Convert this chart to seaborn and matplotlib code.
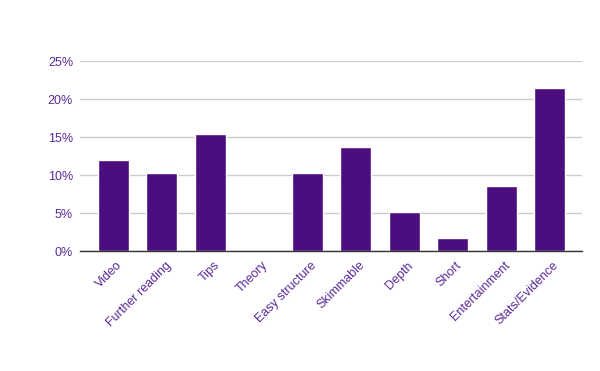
import matplotlib
matplotlib.use("Agg")
import matplotlib.pyplot as plt
import matplotlib.transforms as mtransforms
import seaborn as sns
import pandas as pd
from matplotlib.ticker import FuncFormatter

categories = ["Video", "Further reading", "Tips", "Theory", "Easy structure",
              "Skimmable", "Depth", "Short", "Entertainment", "Stats/Evidence"]
values = [12.0, 10.3, 15.4, 0.0, 10.3, 13.7, 5.1, 1.7, 8.5, 21.4]
yticks = [0, 5, 10, 15, 20, 25]

sns.set_theme(style="white")
plt.rcParams['font.family'] = ['Liberation Sans', 'DejaVu Sans']

bar_color = "#4c0d7f"
text_color = "#5a2a98"

df = pd.DataFrame({"cat": categories, "val": values})
fig = plt.figure(figsize=(6, 3.71), dpi=100)
ax = fig.add_axes([80/600, 1-251/371, (582-80)/600, (251-61)/371])
sns.barplot(data=df, x="cat", y="val", color=bar_color, width=0.64,
            saturation=1, ax=ax, zorder=3)
ax.set_xlim(-0.692, 9.671)
ax.set_ylim(0, 25)
ax.set_yticks(yticks)
ax.yaxis.set_major_formatter(FuncFormatter(lambda v, p: f"{int(v)}%"))
ax.grid(axis="y", color="#cccccc", linewidth=1, zorder=0)
ax.set_xlabel("")
ax.set_ylabel("")
for s in ["top", "right", "left"]:
    ax.spines[s].set_visible(False)
ax.spines["bottom"].set_color("#333333")
ax.spines["bottom"].set_linewidth(1)
ax.spines["bottom"].set_zorder(4)
ax.tick_params(axis="both", length=0, colors=text_color, labelsize=9)
ax.tick_params(axis="y", pad=5)
ax.tick_params(axis="x", pad=6)
offset = mtransforms.ScaledTranslation(3/100, 0, fig.dpi_scale_trans)
for lbl in ax.get_xticklabels():
    lbl.set_rotation(45)
    lbl.set_ha("right")
    lbl.set_rotation_mode("anchor")
    lbl.set_color(text_color)
    lbl.set_transform(lbl.get_transform() + offset)
fig.savefig("out.png", dpi=100)
